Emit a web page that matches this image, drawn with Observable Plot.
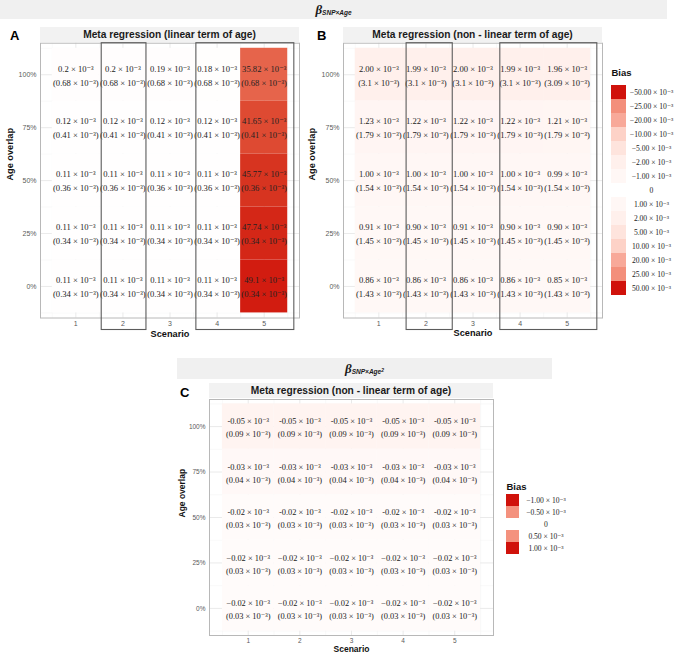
<!DOCTYPE html>
<html>
<head>
<meta charset="utf-8">
<script src="https://cdn.jsdelivr.net/npm/d3@7"></script>
<script src="https://cdn.jsdelivr.net/npm/@observablehq/plot@0.6"></script>
<style>
  body { margin: 0; background: #ffffff; }
  #root { position: relative; width: 676px; height: 656px; overflow: hidden; background: #ffffff;
          font-family: "Liberation Sans", Arial, sans-serif; }
  .band { position: absolute; background: #f0f0f0; display: flex; align-items: center; justify-content: center; color: #1a1a1a; }
  .strip { position: absolute; background: #f2f2f2; display: flex; align-items: center; justify-content: center;
           font-weight: bold; font-size: 10.2px; color: #1a1a1a; }
  .tag { position: absolute; font-weight: bold; font-size: 13px; color: #000; line-height: 1; }
  .beta { font-family: "Liberation Serif", serif; font-style: italic; font-weight: bold; font-size: 13px; }
  .sub { font-family: "Liberation Sans", Arial, sans-serif; font-style: italic; font-weight: bold; font-size: 6.5px;
         position: relative; top: 3px; }
  .sub sup { font-size: 5px; position: relative; top: -2px; vertical-align: baseline; }
</style>
</head>
<body>
<div id="root"></div>
<script>
// ---------------- data ----------------
const scenarios = [1, 2, 3, 4, 5];
const overlaps = [100, 75, 50, 25, 0];          // rows, top to bottom
const overlapTicks = [0, 25, 50, 75, 100];

// Panel A — meta regression, linear term of age (values × 10^-3)
const biasA = [
  [0.2, 0.2, 0.19, 0.18, 35.82],
  [0.12, 0.12, 0.12, 0.12, 41.65],
  [0.11, 0.11, 0.11, 0.11, 45.77],
  [0.11, 0.11, 0.11, 0.11, 47.74],
  [0.11, 0.11, 0.11, 0.11, 49.1]
];
const seA = [
  [0.68, 0.68, 0.68, 0.68, 0.68],
  [0.41, 0.41, 0.41, 0.41, 0.41],
  [0.36, 0.36, 0.36, 0.36, 0.36],
  [0.34, 0.34, 0.34, 0.34, 0.34],
  [0.34, 0.34, 0.34, 0.34, 0.34]
];

// Panel B — meta regression, non-linear term of age, beta SNP×Age
const biasB = [
  [2.00, 1.99, 2.00, 1.99, 1.96],
  [1.23, 1.22, 1.22, 1.22, 1.21],
  [1.00, 1.00, 1.00, 1.00, 0.99],
  [0.91, 0.90, 0.91, 0.90, 0.90],
  [0.86, 0.86, 0.86, 0.86, 0.85]
];
const seB = [
  [3.1, 3.1, 3.1, 3.1, 3.09],
  [1.79, 1.79, 1.79, 1.79, 1.79],
  [1.54, 1.54, 1.54, 1.54, 1.54],
  [1.45, 1.45, 1.45, 1.45, 1.45],
  [1.43, 1.43, 1.43, 1.43, 1.43]
];

// Panel C — meta regression, non-linear term of age, beta SNP×Age²
const biasC = [
  [-0.05, -0.05, -0.05, -0.05, -0.05],
  [-0.03, -0.03, -0.03, -0.03, -0.03],
  [-0.02, -0.02, -0.02, -0.02, -0.02],
  [-0.02, -0.02, -0.02, -0.02, -0.02],
  [-0.02, -0.02, -0.02, -0.02, -0.02]
];
const seC = [
  [0.09, 0.09, 0.09, 0.09, 0.09],
  [0.04, 0.04, 0.04, 0.04, 0.04],
  [0.03, 0.03, 0.03, 0.03, 0.03],
  [0.03, 0.03, 0.03, 0.03, 0.03],
  [0.03, 0.03, 0.03, 0.03, 0.03]
];
const minusC = ["-", "-", "-", "\u2212", "\u2212"];   // sign glyph printed in each row

// Highlighted scenario groups (outlined boxes)
const highlightA = [{from: 1.55, to: 2.5}, {from: 3.56, to: 5.64}];
const highlightB = [{from: 1.59, to: 2.57}, {from: 3.58, to: 5.64}];

// Fill scales (legend breaks and their colours)
const breaksAB = [-50, -25, -20, -10, -5, -2, -1, 0, 1, 2, 5, 10, 20, 25, 50];
const coloursAB = ["#d0120b", "#f38f7b", "#f8a999", "#fdd2c7", "#fee4dd", "#fff0ec", "#fff7f5", "#ffffff",
                   "#fff7f5", "#fff0ec", "#fee4dd", "#fdd2c7", "#f8a999", "#f38f7b", "#d0120b"];
const breaksC = [-1, -0.5, 0, 0.5, 1];
const coloursC = ["#d0120b", "#f4927e", "#ffffff", "#f4927e", "#d0120b"];

// ---------------- helpers ----------------
const EXP = " \u00d7 10\u207b\u00b3";
const SERIF = "Liberation Serif, DejaVu Serif, serif";
const SANS = "Liberation Sans, Arial, sans-serif";

function tidy(bias, se, fmtBias, fmtSe) {
  const out = [];
  overlaps.forEach((o, i) => scenarios.forEach((s, j) => {
    out.push({scenario: s, overlap: o, bias: bias[i][j], se: se[i][j],
              l1: fmtBias(bias[i][j], i) + EXP, l2: "(" + fmtSe(se[i][j], i) + EXP + ")"});
  }));
  return out;
}

const dataA = tidy(biasA, seA, v => String(v), v => String(v));
const dataB = tidy(biasB, seB, v => v.toFixed(2), v => String(v));
const dataC = tidy(biasC, seC, (v, i) => (v < 0 ? minusC[i] : "") + Math.abs(v).toFixed(2), v => v.toFixed(2));

const minorX = [0.5, 1.5, 2.5, 3.5, 4.5, 5.5];
const minorY = [-12.5, 12.5, 37.5, 62.5, 87.5, 112.5];

function panel(o) {
  return Plot.plot({
    width: o.width, height: o.height,
    marginLeft: o.ml, marginRight: o.mr, marginTop: o.mt, marginBottom: o.mb,
    style: {background: "transparent", overflow: "visible", fontFamily: SANS},
    x: {type: "linear", domain: [0.25, 5.75], axis: null},
    y: {type: "linear", domain: [-14.9, 114.9], axis: null},
    color: {type: "linear", domain: o.breaks, range: o.colours, interpolate: "lab"},
    marks: [
      Plot.gridX(minorX, {stroke: "#f2f2f2", strokeOpacity: 1, strokeWidth: 0.5}),
      Plot.gridY(minorY, {stroke: "#f2f2f2", strokeOpacity: 1, strokeWidth: 0.5}),
      Plot.gridX(scenarios, {stroke: "#e4e4e4", strokeOpacity: 1, strokeWidth: 0.8}),
      Plot.gridY(overlapTicks, {stroke: "#e4e4e4", strokeOpacity: 1, strokeWidth: 0.8}),
      Plot.rect(o.data, {x1: d => d.scenario - 0.5, x2: d => d.scenario + 0.5,
                         y1: d => d.overlap - 12.5, y2: d => d.overlap + 12.5, fill: "bias"}),
      Plot.text(o.data, {x: "scenario", y: "overlap", text: "l1", dy: o.dy1, fontFamily: SERIF,
                         fontSize: o.cellFont, fill: "#222"}),
      Plot.text(o.data, {x: "scenario", y: "overlap", text: "l2", dy: o.dy2, fontFamily: SERIF,
                         fontSize: o.cellFont, fill: "#222"}),
      Plot.frame({stroke: "#b8b8b8", strokeWidth: 1}),
      Plot.axisX(scenarios, {tickSize: 0, tickPadding: o.xPad, fontSize: o.tickFont, fill: "#5a5a5a", label: null,
                             tickFormat: d => String(d)}),
      Plot.axisY(overlapTicks, {tickSize: 0, tickPadding: 4, fontSize: o.tickFont, fill: "#5a5a5a", label: null,
                                tickFormat: d => d + "%"}),
      Plot.text(["Scenario"], {frameAnchor: "bottom", dy: o.xTitleDy, fontWeight: "bold", fontSize: o.titleFont,
                               fill: "#111"}),
      Plot.text(["Age overlap"], {frameAnchor: "left", dx: o.yTitleDx, rotate: -90, fontWeight: "bold",
                                  fontSize: o.titleFont, fill: "#111"}),
      o.boxes ? Plot.rect(o.boxes, {x1: "from", x2: "to", fill: "none", stroke: "#5c5c5c", strokeWidth: 1.1,
                                    insetBottom: -12}) : null
    ]
  });
}

function legend(o) {
  const n = o.breaks.length;
  const fmt = v => v === 0 ? "0" : (v < 0 ? "\u2212" : "") + Math.abs(v).toFixed(2) + EXP;
  return Plot.plot({
    width: o.width, height: o.mt + n * o.rowH + 4,
    marginLeft: 2, marginRight: o.width - 2 - o.swatchW, marginTop: o.mt, marginBottom: 4,
    style: {background: "transparent", overflow: "visible"},
    x: {axis: null},
    y: {type: "band", domain: o.breaks, padding: 0, axis: null},
    color: {type: "linear", domain: o.breaks, range: o.colours, interpolate: "lab"},
    marks: [
      Plot.cell(o.breaks.filter(v => v !== 0), {y: d => d, fill: d => d}),
      Plot.text(o.breaks, {y: d => d, text: fmt, frameAnchor: "left", textAnchor: "middle", dx: o.textDx,
                           fontFamily: SERIF, fontSize: o.font, fill: "#222"}),
      Plot.text(["Bias"], {frameAnchor: "top-left", dy: o.titleDy, textAnchor: "start", fontWeight: "bold",
                           fontSize: 9.5, fontFamily: SANS, fill: "#111"})
    ]
  });
}

// ---------------- layout ----------------
const root = document.getElementById("root");
function place(el, left, top) {
  el.style.position = "absolute"; el.style.left = left + "px"; el.style.top = top + "px";
  root.appendChild(el); return el;
}
function div(cls, html, left, top, w, h) {
  const d = document.createElement("div");
  d.className = cls; d.innerHTML = html;
  d.style.left = left + "px"; d.style.top = top + "px";
  if (w != null) d.style.width = w + "px";
  if (h != null) d.style.height = h + "px";
  root.appendChild(d); return d;
}

// Top band (beta SNP×Age)
div("band", '<span class="beta">\u03b2</span><span class="sub">SNP\u00d7Age</span>', 0, 0, 667, 19);
div("tag", "A", 10, 29);
div("tag", "B", 317, 29);
div("strip", "Meta regression (linear term of age)", 40, 27, 259, 15);
div("strip", "Meta regression (non - linear term of age)", 343, 27, 259, 15);

// Panel A
place(panel({data: dataA, breaks: breaksAB, colours: coloursAB, boxes: highlightA,
  width: 340, height: 345, ml: 40, mr: 41, mt: 42.7, mb: 27.5,
  dy1: -6, dy2: 8, cellFont: 8.6, tickFont: 7, titleFont: 9.2, xPad: 3, xTitleDy: 19, yTitleDx: -30}), 0, 0);

// Panel B
place(panel({data: dataB, breaks: breaksAB, colours: coloursAB, boxes: highlightB,
  width: 305, height: 345, ml: 43, mr: 3, mt: 42.7, mb: 27.5,
  dy1: -6, dy2: 8, cellFont: 8.6, tickFont: 7, titleFont: 9.2, xPad: 3, xTitleDy: 18, yTitleDx: -31}), 300, 0);

// Legend B
place(legend({breaks: breaksAB, colours: coloursAB, width: 67, mt: 21, rowH: 14.8, swatchW: 15,
  textDx: 40, titleDy: -10, font: 7.6}), 609, 58);

// Panel C
div("band", '<span class="beta">\u03b2</span><span class="sub">SNP\u00d7Age<sup>2</sup></span>', 177, 358, 375, 21);
div("tag", "C", 180, 386);
div("strip", "Meta regression (non - linear term of age)", 209, 383, 284, 15);

place(panel({data: dataC, breaks: breaksC, colours: coloursC, boxes: null,
  width: 340, height: 276, ml: 49, mr: 7, mt: 19, mb: 21,
  dy1: -5, dy2: 8, cellFont: 8.4, tickFont: 6.5, titleFont: 8.5, xPad: 3, xTitleDy: 16, yTitleDx: -27}), 160, 380);

// Legend C
place(legend({breaks: breaksC, colours: coloursC, width: 80, mt: 22, rowH: 12.8, swatchW: 13,
  textDx: 39.5, titleDy: -9, font: 7.6}), 504, 470);
</script>
</body>
</html>
